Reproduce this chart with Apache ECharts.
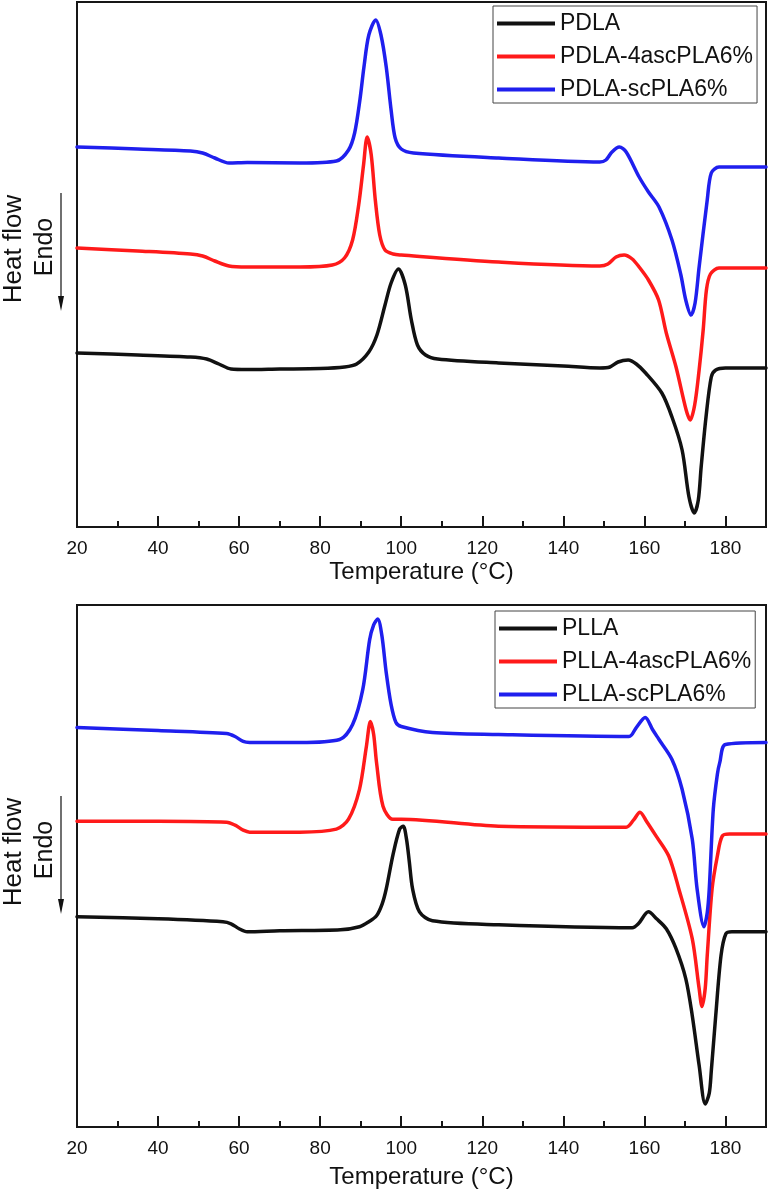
<!DOCTYPE html>
<html>
<head>
<meta charset="utf-8">
<script src="https://cdn.jsdelivr.net/npm/echarts@6.0.0/dist/echarts.min.js"></script>
<style>
  html, body { margin: 0; padding: 0; background: #fff; }
  #chart { width: 770px; height: 1190px; }
</style>
</head>
<body>
<div id="chart"></div>
<script>
// ---------- DATA (heat flow in arbitrary units) ----------
const tempTicks = [20, 40, 60, 80, 100, 120, 140, 160, 180];
const minorTempTicks = [30, 50, 70, 90, 110, 130, 150, 170];

const topNames = ['PDLA', 'PDLA-4ascPLA6%', 'PDLA-scPLA6%'];
const bottomNames = ['PLLA', 'PLLA-4ascPLA6%', 'PLLA-scPLA6%'];

// PDLA (top, black)
const pdlaT = [20, 35, 48, 52, 55, 58, 62, 70, 80, 86, 89, 92, 94, 96, 97.5, 99.3, 101, 102.5, 104, 106, 109, 124, 140, 149, 151.5, 153.5, 156, 158, 160.3, 164.3, 166.8, 169.3, 171, 172.3, 173.3, 174, 175.2, 176.5, 177.6, 180, 190];
const pdlaV = [174, 172, 170, 168, 163, 158, 157.5, 158, 158.5, 160, 163, 175, 192, 222, 244, 258, 242, 207, 182, 172, 168, 164, 161, 159, 160, 165, 167, 163, 154, 134, 110, 77, 30, 14, 27, 60, 110, 150, 157, 159, 159];

// PDLA-4ascPLA6% (top, red)
const pdla4T = [20, 35, 48, 51, 54, 57.5, 62, 75, 83, 86, 88, 89.5, 90.7, 91.6, 92.6, 93.6, 94.7, 96, 98, 100, 124, 149, 151, 153, 155, 157, 158.7, 161, 163.5, 165.4, 167.8, 170.3, 171.3, 172.4, 173.5, 174.5, 175.3, 176.3, 178.4, 190];
const pdla4V = [279, 276, 273, 271, 266, 261, 260, 260, 262, 269, 287, 322, 362, 390, 372, 327, 292, 277, 273, 272, 265, 261, 263, 270, 272, 268, 260, 247, 227, 194, 160, 117, 107, 122, 157, 197, 237, 253, 259, 259];

// PDLA-scPLA6% (top, blue)
const pdlaScT = [20, 35, 48, 51, 54, 57.5, 62, 75, 84, 87, 88.5, 89.8, 90.8, 92, 93.7, 95, 96.3, 97.5, 98.5, 100, 103, 124, 149, 150.5, 152, 153.8, 155.5, 158.7, 161, 163.6, 166.8, 169, 170.2, 171.5, 172.5, 173.5, 175.5, 176.5, 178.4, 190];
const pdlaScV = [380, 378, 376, 374, 369, 364, 364.5, 364, 366, 377, 394, 427, 460, 492, 507, 492, 460, 417, 389, 378, 374, 369, 365, 367, 375, 380, 375, 350, 335, 320, 287, 252, 227, 212, 224, 260, 327, 354, 360, 360];

// PLLA (bottom, black)
const pllaT = [20, 40, 56, 58, 60, 62, 70, 85, 89.7, 92, 93.9, 95.3, 96.3, 98, 99.6, 100.5, 101.3, 102, 102.8, 104.5, 107.7, 124, 157, 158.5, 161, 163, 165.4, 167.8, 170.2, 171.8, 173.5, 175, 176, 176.5, 177.6, 178.9, 180.1, 181.6, 190];
const pllaV = [211, 209, 206, 204, 199, 196, 197, 198, 201, 206, 212, 224, 239, 274, 299, 302, 289, 266, 239, 216, 207, 203, 200, 204, 216, 209, 199, 179, 149, 112, 62, 23, 34, 56, 112, 172, 194, 196, 196];

// PLLA-4ascPLA6% (bottom, red)
const plla4T = [20, 40, 56.9, 59, 61, 62.6, 75, 84, 87, 89.7, 91.4, 92.4, 93.2, 93.9, 95.5, 97.9, 100, 124, 155.5, 157.3, 158.9, 160.5, 162.9, 166, 168.5, 171.8, 173.5, 174.2, 175, 175.5, 176.7, 178, 179.2, 181, 190];
const plla4V = [307, 307, 306, 303, 298, 296, 296, 299, 309, 339, 382, 407, 394, 366, 322, 309, 309, 302, 301, 308, 316, 307, 292, 272, 239, 189, 139, 121, 139, 172, 239, 272, 292, 294, 294];

// PLLA-scPLA6% (bottom, blue)
const pllaScT = [20, 40, 56.9, 59, 61, 62.6, 75, 84.8, 88, 90.5, 92.2, 93.2, 94.2, 95.2, 96.3, 97.5, 98.7, 100, 107.7, 124, 156.2, 158, 160.2, 162, 163.6, 166.8, 169.3, 171.8, 173, 174.7, 175.5, 176, 177, 178, 178.6, 180, 190];
const pllaScV = [401, 398, 395, 392, 387, 386, 386, 389, 404, 439, 489, 504, 510, 494, 456, 424, 406, 402, 396, 394, 392, 401, 411, 399, 389, 369, 339, 289, 239, 201, 215, 239, 319, 354, 366, 384, 386];

// ---------- CHART ----------
const FONT = '"Liberation Sans", Arial, Helvetica, sans-serif';
const INK = '#161616';
const COLORS = ['#111111', '#ff1a1a', '#1f1fee'];

function zip(t, v) { return t.map((x, i) => [x, v[i]]); }

function gridCfg(top, height) {
  return { left: 77, top: top, width: 689, height: height, show: true,
           borderColor: INK, borderWidth: 2, backgroundColor: 'transparent' };
}

function mainX(gridIndex, nameGap) {
  return {
    gridIndex: gridIndex, type: 'value', min: 20, max: 190, interval: 20, position: 'bottom',
    axisLine: { show: true, onZero: false, lineStyle: { color: INK, width: 2 } },
    axisTick: { show: true, inside: true, length: 11, customValues: tempTicks, lineStyle: { color: INK, width: 2 } },
    axisLabel: { show: true, customValues: tempTicks, margin: 12, fontSize: 19, color: '#111', fontFamily: FONT },
    splitLine: { show: false },
    name: 'Temperature (\u00B0C)', nameLocation: 'middle', nameGap: nameGap,
    nameTextStyle: { fontSize: 24, color: '#111', fontFamily: FONT }
  };
}
function minorX(gridIndex) {
  return {
    gridIndex: gridIndex, type: 'value', min: 20, max: 190, interval: 20, position: 'bottom',
    axisLine: { show: false, onZero: false },
    axisTick: { show: true, inside: true, length: 6, customValues: minorTempTicks, lineStyle: { color: INK, width: 2 } },
    axisLabel: { show: false }, splitLine: { show: false }
  };
}
function yCfg(gridIndex, max) {
  return {
    gridIndex: gridIndex, type: 'value', min: 0, max: max,
    axisLine: { show: true, onZero: false, lineStyle: { color: INK, width: 2 } },
    axisTick: { show: false }, axisLabel: { show: false }, splitLine: { show: false }
  };
}
function legendCfg(left, top, names) {
  return {
    left: left, top: top, orient: 'vertical', data: names, icon: 'rect',
    itemWidth: 58, itemHeight: 4, itemGap: 10, padding: [6, 4, 2, 4],
    borderColor: '#444', borderWidth: 1, backgroundColor: '#fff',
    selectedMode: false,
    textStyle: { fontSize: 23, color: '#111', fontFamily: FONT }
  };
}
function lineSeries(name, data, color, xIdx, yIdx) {
  return {
    name: name, type: 'line', data: data, xAxisIndex: xIdx, yAxisIndex: yIdx,
    showSymbol: false, symbol: 'none', smooth: 0.3,
    itemStyle: { color: color },
    lineStyle: { color: color, width: 3.5, cap: 'round', join: 'round' }
  };
}
function yLabel(offsetY) {
  return [
    { type: 'text', x: 14, y: 249 + offsetY, rotation: Math.PI / 2,
      style: { text: 'Heat flow', fontSize: 26, fontFamily: FONT, fill: '#111', align: 'center', verticalAlign: 'middle' } },
    { type: 'text', x: 45, y: 247 + offsetY, rotation: Math.PI / 2,
      style: { text: 'Endo', fontSize: 25, fontFamily: FONT, fill: '#111', align: 'center', verticalAlign: 'middle' } },
    { type: 'line', shape: { x1: 61, y1: 193 + offsetY, x2: 61, y2: 300 + offsetY },
      style: { stroke: '#111', lineWidth: 1.2 } },
    { type: 'polygon', shape: { points: [[58, 296 + offsetY], [64, 296 + offsetY], [61, 311 + offsetY]] },
      style: { fill: '#111' } }
  ];
}

const chart = echarts.init(document.getElementById('chart'), null, { renderer: 'canvas' });
chart.setOption({
  animation: false,
  backgroundColor: '#fff',
  grid: [gridCfg(2, 525), gridCfg(605, 524)],
  xAxis: [mainX(0, 33), minorX(0), mainX(1, 38), minorX(1)],
  yAxis: [yCfg(0, 525), yCfg(1, 524)],
  legend: [legendCfg(493, 6, topNames), legendCfg(495, 611, bottomNames)],
  series: [
    lineSeries(topNames[0], zip(pdlaT, pdlaV), COLORS[0], 0, 0),
    lineSeries(topNames[1], zip(pdla4T, pdla4V), COLORS[1], 0, 0),
    lineSeries(topNames[2], zip(pdlaScT, pdlaScV), COLORS[2], 0, 0),
    lineSeries(bottomNames[0], zip(pllaT, pllaV), COLORS[0], 2, 1),
    lineSeries(bottomNames[1], zip(plla4T, plla4V), COLORS[1], 2, 1),
    lineSeries(bottomNames[2], zip(pllaScT, pllaScV), COLORS[2], 2, 1)
  ],
  graphic: yLabel(0).concat(yLabel(603))
});
</script>
</body>
</html>
